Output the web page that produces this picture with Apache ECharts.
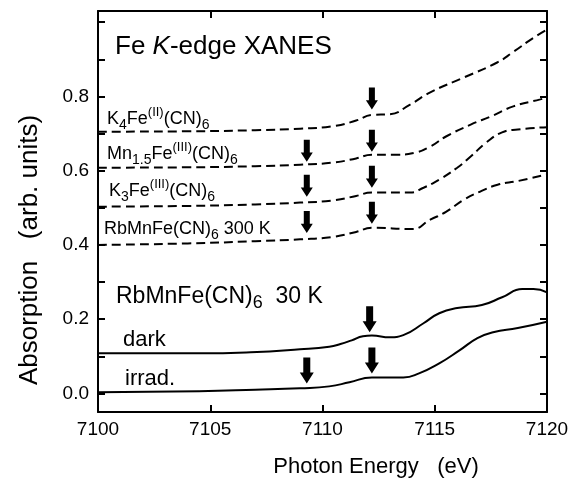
<!DOCTYPE html>
<html>
<head>
<meta charset="utf-8">
<script src="https://cdn.jsdelivr.net/npm/echarts@6/dist/echarts.min.js"></script>
<style>
  html, body { margin: 0; padding: 0; background: #fff; }
  #xanes { width: 583px; height: 485px; }
</style>
</head>
<body>
<div id="xanes"></div>
<script>
  // photon energy (eV), absorption (arb. units)
  var k4FeII = [[7100, 0.705], [7104, 0.706], [7107, 0.709], [7109, 0.713], [7110.5, 0.72], [7111.5, 0.735], [7112.2, 0.75], [7113.0, 0.752], [7113.9, 0.778], [7114.8, 0.811], [7116.3, 0.851], [7117.8, 0.892], [7118.5, 0.92], [7119.4, 0.958], [7120, 0.98]]
  var mnFeIII = [[7100, 0.608], [7104, 0.609], [7107, 0.612], [7109, 0.616], [7110.5, 0.622], [7111.5, 0.633], [7112.2, 0.643], [7113.3, 0.643], [7114.1, 0.648], [7114.8, 0.665], [7115.5, 0.692], [7116.6, 0.724], [7117.5, 0.746], [7118.5, 0.773], [7119.7, 0.792], [7120, 0.797]]
  var k3FeIII = [[7100, 0.503], [7104, 0.505], [7107, 0.509], [7109, 0.514], [7110.5, 0.52], [7111.5, 0.532], [7112.2, 0.541], [7113.9, 0.541], [7114.5, 0.554], [7115.2, 0.576], [7116.0, 0.608], [7116.6, 0.638], [7117.3, 0.676], [7118.0, 0.703], [7118.7, 0.711], [7120, 0.717]]
  var rb300K = [[7100, 0.40], [7104, 0.404], [7107, 0.41], [7109, 0.415], [7110.5, 0.422], [7111.5, 0.435], [7112.2, 0.446], [7114.0, 0.443], [7114.8, 0.468], [7115.5, 0.489], [7116.3, 0.522], [7117.0, 0.543], [7117.8, 0.562], [7118.7, 0.572], [7120, 0.59]]
  var dark30K = [[7100, 0.108], [7104.5, 0.108], [7106.8, 0.111], [7109.0, 0.119], [7110.3, 0.126], [7110.8, 0.133], [7111.3, 0.143], [7111.8, 0.154], [7112.2, 0.156], [7113.0, 0.151], [7113.6, 0.157], [7114.5, 0.189], [7115.2, 0.216], [7116.0, 0.230], [7117.1, 0.238], [7118.0, 0.259], [7118.9, 0.281], [7119.4, 0.281], [7120, 0.272]]
  var irrad30K = [[7100, 0.003], [7104.5, 0.006], [7107, 0.01], [7109, 0.014], [7110.3, 0.019], [7111.2, 0.03], [7112.2, 0.043], [7113.6, 0.043], [7114.3, 0.054], [7115.2, 0.081], [7116.1, 0.116], [7116.9, 0.149], [7117.6, 0.165], [7118.7, 0.176], [7120, 0.193]]

  // arrow tips [energy, absorption]
  var dashedArrows = [[7112.2, 0.765], [7109.3, 0.624], [7112.2, 0.651], [7109.3, 0.53], [7112.2, 0.554], [7109.3, 0.432], [7112.2, 0.457]]
  var solidArrows = [[7112.1, 0.165], [7112.2, 0.054], [7109.3, 0.027]]

  var xTicks = [7100, 7105, 7110, 7115, 7120]
  var yLabelTicks = [0, 0.2, 0.4, 0.6, 0.8]
  var yMinorTicks = [0, 0.1, 0.2, 0.3, 0.4, 0.5, 0.6, 0.7, 0.8, 0.9, 1.0]

  var FONT = '"Liberation Sans", Arial, sans-serif'
  var ARROW = 'path://M3.5,0 L10.5,0 L10.5,14 L14,14 L7,24 L0,14 L3.5,14 Z'

  // sub/superscript styles for the compound names
  function richSet(size) {
    var s = Math.round(size * 0.8)
    return {
      n: { fontSize: size, fontFamily: FONT, color: '#000', lineHeight: size + 8 },
      i: { fontSize: size, fontFamily: FONT, color: '#000', lineHeight: size + 8, fontStyle: 'italic' },
      sub: { fontSize: s, fontFamily: FONT, color: '#000', lineHeight: s, verticalAlign: 'bottom' },
      sup: { fontSize: s - 1, fontFamily: FONT, color: '#000', lineHeight: s - 1, verticalAlign: 'top' }
    }
  }
  function label(x, y, text, size) {
    return {
      type: 'text', x: x, y: y, z: 10,
      style: { text: text, rich: richSet(size), textVerticalAlign: 'middle', fill: '#000' }
    }
  }

  function dashed(data) {
    return {
      type: 'line', data: data, showSymbol: false, smooth: 0.5,
      lineStyle: { color: '#000', width: 2, type: [9, 5] }
    }
  }
  function solid(data) {
    return {
      type: 'line', data: data, showSymbol: false, smooth: 0.5,
      lineStyle: { color: '#000', width: 2 }
    }
  }

  function axisLine() {
    return { show: true, onZero: false, lineStyle: { color: '#000', width: 2 } }
  }
  function tick(values) {
    var t = { show: true, inside: true, length: 7, lineStyle: { color: '#000', width: 2 } }
    if (values) t.customValues = values
    return t
  }

  var chart = echarts.init(document.getElementById('xanes'))
  chart.setOption({
    animation: false,
    backgroundColor: '#fff',
    grid: { left: 98, right: 36, top: 11, bottom: 73 },
    xAxis: [{
      type: 'value', position: 'bottom', min: 7100, max: 7120, interval: 5,
      axisLine: axisLine(), axisTick: tick(xTicks), splitLine: { show: false },
      axisLabel: {
        color: '#000', fontSize: 19, fontFamily: FONT, margin: 8, customValues: xTicks,
        formatter: function (v) { return String(v) }
      }
    }, {
      type: 'value', position: 'top', min: 7100, max: 7120, interval: 5,
      axisLine: axisLine(), axisTick: tick(xTicks), splitLine: { show: false },
      axisLabel: { show: false }
    }],
    yAxis: [{
      type: 'value', position: 'left', min: -0.05, max: 1.03,
      axisLine: axisLine(), splitLine: { show: false },
      axisTick: tick(yMinorTicks),
      axisLabel: {
        color: '#000', fontSize: 19, fontFamily: FONT, margin: 9, customValues: yLabelTicks,
        formatter: function (v) { return v.toFixed(1) }
      }
    }, {
      type: 'value', position: 'right', min: -0.05, max: 1.03,
      axisLine: axisLine(), splitLine: { show: false },
      axisTick: tick(yMinorTicks),
      axisLabel: { show: false }
    }],
    series: [
      dashed(k4FeII), dashed(mnFeIII), dashed(k3FeIII), dashed(rb300K),
      solid(dark30K), solid(irrad30K),
      {
        type: 'scatter', data: dashedArrows, symbol: ARROW, symbolSize: [12, 22],
        symbolOffset: [0, '-50%'], itemStyle: { color: '#000', opacity: 1 }, z: 5
      },
      {
        type: 'scatter', data: solidArrows, symbol: ARROW, symbolSize: [14, 26],
        symbolOffset: [0, '-50%'], itemStyle: { color: '#000', opacity: 1 }, z: 5
      }
    ],
    graphic: [
      label(115, 47, '{n|Fe }{i|K}{n|-edge XANES}', 26),
      label(107, 119, '{n|K}{sub|4}{n|Fe}{sup|(II)}{n|(CN)}{sub|6}', 18),
      label(107, 154, '{n|Mn}{sub|1.5}{n|Fe}{sup|(III)}{n|(CN)}{sub|6}', 18),
      label(109, 191, '{n|K}{sub|3}{n|Fe}{sup|(III)}{n|(CN)}{sub|6}', 18),
      label(104, 229, '{n|RbMnFe(CN)}{sub|6}{n| 300 K}', 18),
      label(116, 297, '{n|RbMnFe(CN)}{sub|6}{n|  30 K}', 23),
      label(123, 340, '{n|dark}', 22),
      label(125, 379, '{n|irrad.}', 22),
      {
        type: 'text', x: 376, y: 467,
        style: { text: 'Photon Energy   (eV)', font: '22px ' + FONT, fill: '#000', textAlign: 'center', textVerticalAlign: 'middle' }
      },
      {
        type: 'text', x: 30, y: 250, rotation: Math.PI / 2,
        style: { text: 'Absorption   (arb. units)', font: '26px ' + FONT, fill: '#000', textAlign: 'center', textVerticalAlign: 'middle' }
      }
    ]
  })
</script>
</body>
</html>
